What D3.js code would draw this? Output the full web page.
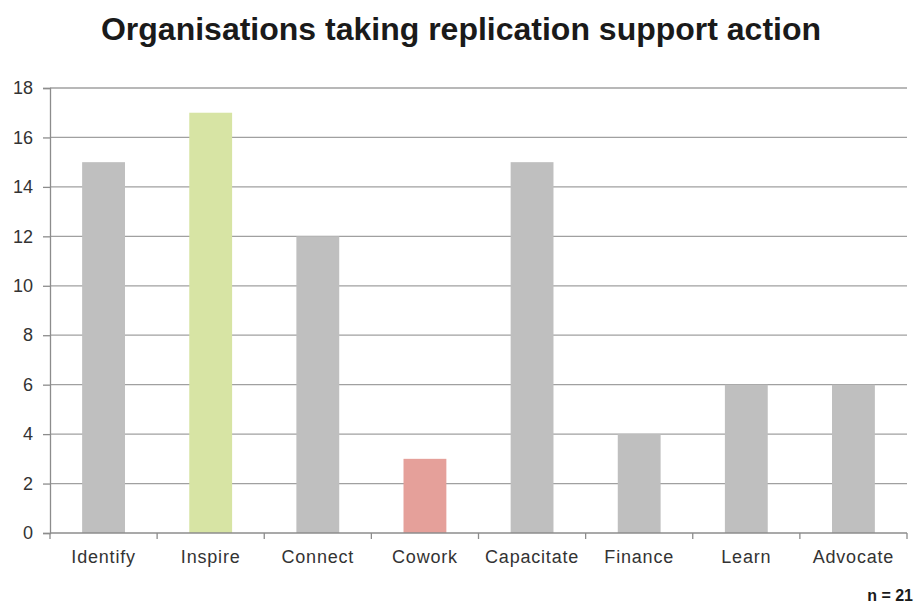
<!DOCTYPE html>
<html>
<head>
<meta charset="utf-8">
<script src="https://cdn.jsdelivr.net/npm/d3@7"></script>
<style>
  body { margin: 0; background: #fff; }
  svg { font-family: "Liberation Sans", Arial, sans-serif; }
</style>
</head>
<body>
<div id="chart"></div>
<script>
// Chart data
const categories = ['Identify', 'Inspire', 'Connect', 'Cowork', 'Capacitate', 'Finance', 'Learn', 'Advocate'];
const values = [15, 17, 12, 3, 15, 4, 6, 6];
const barColors = ['#bfbfbf', '#d7e4a4', '#bfbfbf', '#e5a09a', '#bfbfbf', '#bfbfbf', '#bfbfbf', '#bfbfbf'];
const yTicks = [0, 2, 4, 6, 8, 10, 12, 14, 16, 18];
const title = 'Organisations taking replication support action';
const note = 'n = 21';

const width = 918, height = 607;
const margin = { top: 88, right: 11, bottom: 74, left: 50 };
const innerW = width - margin.left - margin.right;
const innerH = height - margin.top - margin.bottom;

const svg = d3.select('#chart').append('svg')
  .attr('width', width)
  .attr('height', height);

// Title
svg.append('text')
  .attr('x', 461)
  .attr('y', 40)
  .attr('text-anchor', 'middle')
  .attr('font-size', 32)
  .attr('font-weight', 'bold')
  .attr('fill', '#1a1a1a')
  .text(title);

const g = svg.append('g')
  .attr('transform', `translate(${margin.left},${margin.top})`);

const x = d3.scaleBand()
  .domain(categories)
  .range([0, innerW])
  .paddingInner(0.6)
  .paddingOuter(0.3);

const xBand = d3.scaleBand()
  .domain(categories)
  .range([0, innerW]);

const y = d3.scaleLinear()
  .domain([0, 18])
  .range([innerH, 0]);

// Gridlines
g.append('g')
  .selectAll('line')
  .data(yTicks.filter(d => d > 0))
  .join('line')
  .attr('x1', 0)
  .attr('x2', innerW)
  .attr('y1', d => y(d))
  .attr('y2', d => y(d))
  .attr('stroke', '#a0a0a0')
  .attr('stroke-width', 1.3);

// Bars
g.append('g')
  .selectAll('rect')
  .data(values)
  .join('rect')
  .attr('x', (d, i) => x(categories[i]))
  .attr('y', d => y(d))
  .attr('width', x.bandwidth())
  .attr('height', d => innerH - y(d))
  .attr('fill', (d, i) => barColors[i]);

// Y axis
const yAxis = g.append('g')
  .call(d3.axisLeft(y).tickValues(yTicks).tickSize(7).tickPadding(10));
yAxis.select('.domain').attr('stroke', '#8c8c8c').attr('stroke-width', 1.3);
yAxis.selectAll('.tick line').attr('stroke', '#8c8c8c').attr('stroke-width', 1.3);
yAxis.selectAll('.tick text')
  .attr('font-size', 18)
  .attr('fill', '#333')
  .attr('font-family', '"Liberation Sans", Arial, sans-serif');

// X axis with ticks at band edges
const xg = g.append('g')
  .attr('transform', `translate(0,${innerH})`);
xg.append('line')
  .attr('x1', 0).attr('x2', innerW)
  .attr('stroke', '#8c8c8c').attr('stroke-width', 1.3);
xg.selectAll('line.tk')
  .data(categories.concat(['end']))
  .join('line')
  .attr('class', 'tk')
  .attr('x1', (d, i) => i < categories.length ? xBand(d) : innerW)
  .attr('x2', (d, i) => i < categories.length ? xBand(d) : innerW)
  .attr('y1', 0).attr('y2', 6)
  .attr('stroke', '#8c8c8c').attr('stroke-width', 1.3);
xg.selectAll('text')
  .data(categories)
  .join('text')
  .attr('x', d => xBand(d) + xBand.bandwidth() / 2)
  .attr('y', 30)
  .attr('text-anchor', 'middle')
  .attr('font-size', 18)
  .attr('fill', '#333')
  .attr('letter-spacing', 0.8)
  .text(d => d);

// Note
svg.append('text')
  .attr('x', 913)
  .attr('y', 601)
  .attr('text-anchor', 'end')
  .attr('font-size', 16)
  .attr('font-weight', 'bold')
  .attr('fill', '#1a1a1a')
  .text(note);
</script>
</body>
</html>
